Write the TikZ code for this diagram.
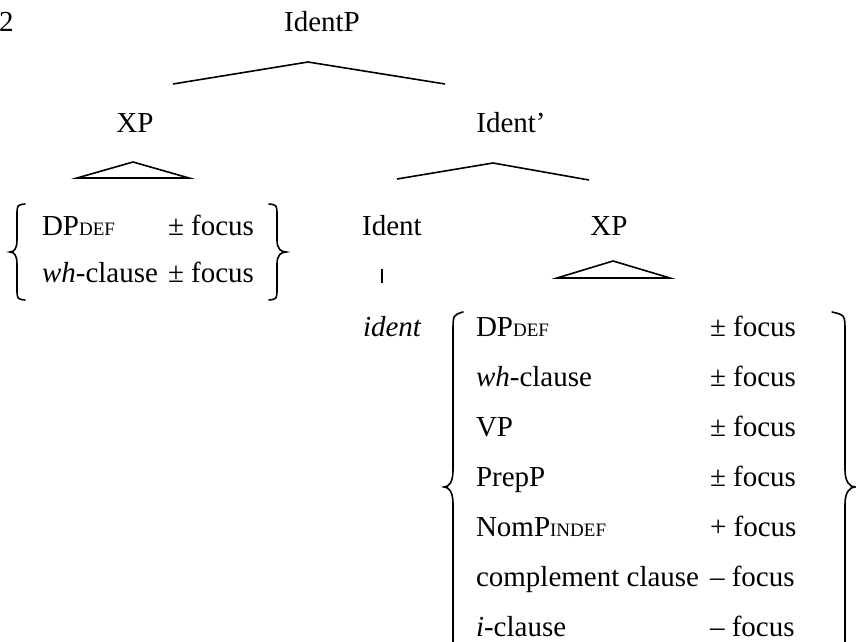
\documentclass[tikz,border=0pt]{standalone}
\usepackage{fontspec}
\setmainfont{Liberation Serif}
% reduced capitals for the feature labels
\newcommand\redcaps[1]{{\fontsize{19}{19}\selectfont #1}}
\begin{document}
\begin{tikzpicture}[x=1pt,y=-1pt,
  lbl/.style={inner sep=0pt, outer sep=0pt, font=\fontsize{29}{35}\selectfont},
  branch/.style={line width=1.6pt, line join=miter},
  brace/.style={line width=1.6pt, line cap=round}]
\useasboundingbox (0,0) rectangle (856,642);
\clip (0,0) rectangle (856,642);

% labels of the tree
\node[lbl, anchor=base west] (num)    at (-1,32)   {2};
\node[lbl, anchor=base]      (identp) at (322,32)  {IdentP};
\node[lbl, anchor=base]      (xpl)    at (135,132) {XP};
\node[lbl, anchor=base]      (identb) at (511,132) {Ident’};
\node[lbl, anchor=base]      (ident)  at (392,235) {Ident};
\node[lbl, anchor=base]      (xpr)    at (609,235) {XP};
\node[lbl, anchor=base west] (identw) at (363,336) {\itshape ident};

% branch points
\coordinate (a1) at (173,84);  \coordinate (a2) at (308,62);  \coordinate (a3) at (445,84);
\coordinate (b1) at (77,178);  \coordinate (b2) at (133,162); \coordinate (b3) at (189,178);
\coordinate (c1) at (397,179); \coordinate (c2) at (493,163); \coordinate (c3) at (589,180);
\coordinate (d1) at (382,269); \coordinate (d2) at (382,283);
\coordinate (e1) at (557,278); \coordinate (e2) at (613,261); \coordinate (e3) at (670,278);

\draw[branch] (a1) -- (a2) -- (a3);
\draw[branch] (b1) -- (b2) -- (b3) -- cycle;
\draw[branch] (c1) -- (c2) -- (c3);
\draw[line width=1.4pt] (d1) -- (d2);
\draw[branch] (e1) -- (e2) -- (e3) -- cycle;

% left set of alternatives
\node[lbl, anchor=base west] (l1a) at (42,235)  {DP\redcaps{DEF}};
\node[lbl, anchor=base west] (l1b) at (168,235) {± focus};
\node[lbl, anchor=base west] (l2a) at (42,282)  {\textit{wh}-clause};
\node[lbl, anchor=base west] (l2b) at (168,282) {± focus};

\draw[brace] (25,204) .. controls (17,205) .. (17,216) -- (17,240)
  .. controls (17,249) and (14,252) .. (10,252) .. controls (14,252) and (17,255) .. (17,264)
  -- (17,288) .. controls (17,299) .. (25,300);
\draw[brace] (269,204) .. controls (277,205) .. (277,216) -- (277,240)
  .. controls (277,249) and (281,252) .. (286,252) .. controls (281,252) and (277,255) .. (277,264)
  -- (277,288) .. controls (277,299) .. (269,300);

% right set of alternatives
\node[lbl, anchor=base west] (r1a) at (476,336) {DP\redcaps{DEF}};
\node[lbl, anchor=base west] (r1b) at (710,336) {± focus};
\node[lbl, anchor=base west] (r2a) at (476,386) {\textit{wh}-clause};
\node[lbl, anchor=base west] (r2b) at (710,386) {± focus};
\node[lbl, anchor=base west] (r3a) at (476,436) {VP};
\node[lbl, anchor=base west] (r3b) at (710,436) {± focus};
\node[lbl, anchor=base west] (r4a) at (476,486) {PrepP};
\node[lbl, anchor=base west] (r4b) at (710,486) {± focus};
\node[lbl, anchor=base west] (r5a) at (476,536) {NomP\redcaps{INDEF}};
\node[lbl, anchor=base west] (r5b) at (710,536) {+ focus};
\node[lbl, anchor=base west] (r6a) at (476,586) {complement clause};
\node[lbl, anchor=base west] (r6b) at (710,586) {– focus};
\node[lbl, anchor=base west] (r7a) at (476,636) {\textit{i}-clause};
\node[lbl, anchor=base west] (r7b) at (710,636) {– focus};

\draw[brace] (463,312) .. controls (453,315) .. (453,332) -- (453,470)
  .. controls (453,482) and (449,487) .. (444,487) .. controls (449,487) and (453,492) .. (453,504)
  -- (453,642) .. controls (453,659) .. (463,662);
\draw[brace] (832,312) .. controls (845,315) .. (845,332) -- (845,470)
  .. controls (845,482) and (850,487) .. (855,487) .. controls (850,487) and (845,492) .. (845,504)
  -- (845,642) .. controls (845,659) .. (832,662);
\end{tikzpicture}
\end{document}
